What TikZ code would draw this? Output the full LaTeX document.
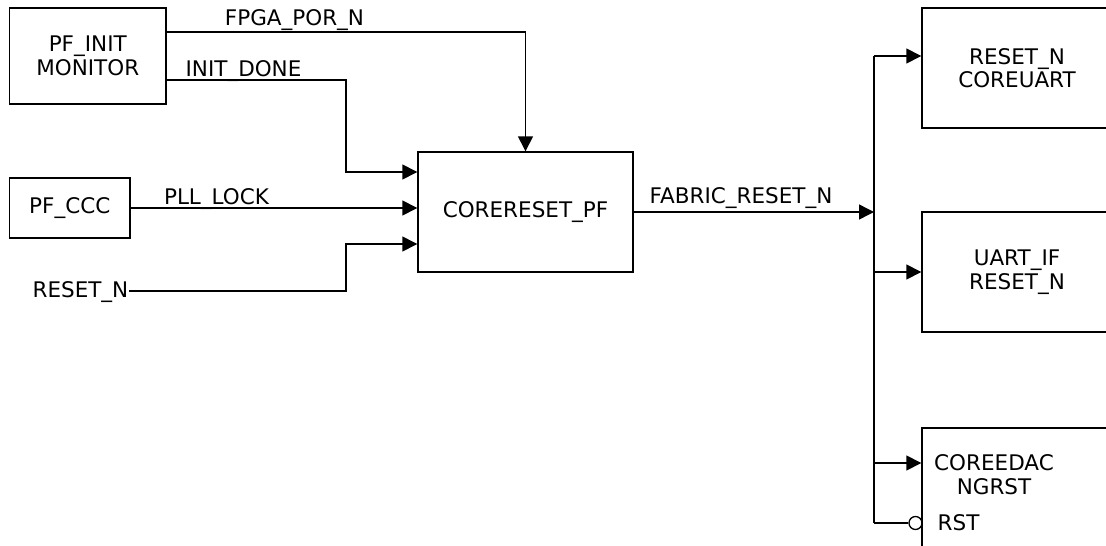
\documentclass[tikz,border=0pt]{standalone}
\usepackage{fontspec}
\setmainfont{DejaVu Sans}
\usetikzlibrary{arrows.meta}
\begin{document}
\begin{tikzpicture}[x=1pt,y=-1pt,
  line width=1.4pt,
  every node/.style={font=\fontsize{21.5}{23.5}\selectfont, text=black},
  blk/.style={draw, line width=1.4pt, inner sep=0pt, align=center},
  sig/.style={-{Triangle[length=15pt,width=15pt]}},
  lbl/.style={anchor=base, inner sep=0pt}]
\useasboundingbox (0,0) rectangle (1106,546);
\begin{scope}
\clip (0,0) rectangle (1106,546);
% blocks
\node[blk, minimum width=156.5pt, minimum height=96pt] (mon) at (87.75,56) {PF\_INIT\\MONITOR};
\node[blk, minimum width=120.5pt, minimum height=60pt] (ccc) at (69.75,208) {PF\_CCC};
\node[blk, minimum width=215pt, minimum height=120pt] (crst) at (525.5,212) {CORERESET\_PF};
\node[blk, minimum width=190pt, minimum height=120pt] (uart) at (1017,68) {RESET\_N\\COREUART};
\node[blk, minimum width=190pt, minimum height=120pt] (uif) at (1017,272) {UART\_IF\\RESET\_N};
\node[blk, minimum width=190pt, minimum height=140pt] (edac) at (1017,498) {};
\node[align=center, inner sep=0pt, anchor=base] (edt) at (994,494) {COREEDAC\\NGRST};
\node[lbl, anchor=base west] (rstl) at (937,530) {RST};
\node[lbl, anchor=base east] (rstin) at (129,297) {RESET\_N};
% labels
\node[lbl] (l1) at (294.5,25) {FPGA\_POR\_N};
\node[lbl] (l2) at (243.5,76) {INIT\_DONE};
\node[lbl] (l3) at (216.5,204) {PLL\_LOCK};
\node[lbl] (l4) at (741,203) {FABRIC\_RESET\_N};
% coordinates
\coordinate (c1) at (525.5,32);
\coordinate (c2) at (346,80);
\coordinate (a1) at (0,172);
\coordinate (a3) at (0,244);
\coordinate (c3) at (346,291);
\coordinate (bt) at (874,56);
\coordinate (bb) at (874,523);
\coordinate (b2) at (874,272);
\coordinate (b3) at (874,463);
\node[circle, draw, line width=1.3pt, minimum size=13pt, inner sep=0pt] (inv) at (915.5,523) {};
% connectors
\draw[sig] (mon.east |- c1) -- (c1) -- (crst.north);
\draw[sig] (mon.east |- c2) -- (c2) |- (crst.west |- a1);
\draw[sig] (ccc.east) -- (crst.west |- ccc.east);
\draw[sig] (rstin.east |- c3) -- (c3) |- (crst.west |- a3);
\draw[sig] (crst.east) -- (crst.east -| bt);
\draw (bt) -- (bb);
\draw[sig] (bt) -- (uart.west |- bt);
\draw[sig] (b2) -- (uif.west |- b2);
\draw[sig] (b3) -- (edac.west |- b3);
\draw (bb) -- (inv.west);
\end{scope}
\end{tikzpicture}
\end{document}
